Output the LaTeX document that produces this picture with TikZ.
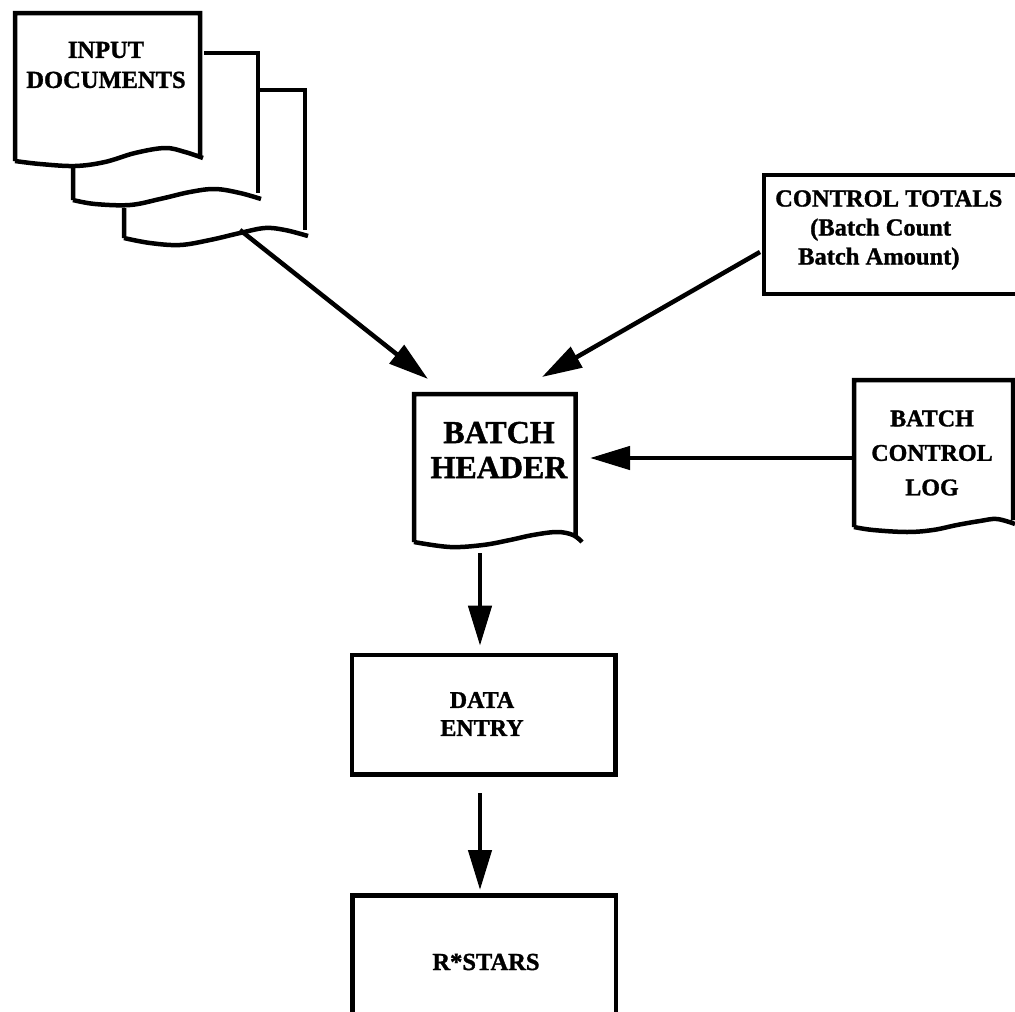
\documentclass[tikz,border=0pt]{standalone}
\usepackage{fontspec}
\setmainfont{Liberation Serif}[BoldFeatures={FakeBold=1.3}]
\usetikzlibrary{arrows.meta}
\begin{document}
\begin{tikzpicture}[x=1pt,y=-1pt,
  outline/.style={line width=4.5pt, line join=miter},
  arr/.style={line width=4.5pt, -{Triangle[length=40pt,width=23pt]}},
  lbl/.style={inner sep=0pt, align=center, font=\bfseries\fontsize{24.5}{30}\selectfont},
  biglbl/.style={inner sep=0pt, align=center, font=\bfseries\fontsize{32}{35}\selectfont},
  procbox/.style={draw, line width=4.5pt, inner sep=0pt}]
\useasboundingbox (0,0) rectangle (1015,1012);
\clip (0,0) rectangle (1015,1012);

% ---- Input documents (three stacked pages)
\draw[outline] (200,156) -- (200,13) -- (15,13) -- (15,161)
  plot[smooth, tension=0.6] coordinates {(15,161) (40,164) (75,166) (105,162) (135,153) (165,148) (185,152) (203,158)};
\draw[outline] (204,53) -- (258,53) -- (258,193);
\draw[outline] (73,168) -- (73,200)
  plot[smooth, tension=0.6] coordinates {(73,200) (95,204) (130,205) (160,199) (190,192) (215,189) (240,193) (261,199)};
\draw[outline] (258,90) -- (305,90) -- (305,230);
\draw[outline] (124,208) -- (124,238)
  plot[smooth, tension=0.6] coordinates {(124,238) (150,243) (180,245) (210,240) (240,233) (265,228) (285,230) (308,236)};
\node[lbl] (indocs) at (106,65) {INPUT\\DOCUMENTS};
\coordinate (indocsOut) at (240,230);

% ---- Control totals
\draw[outline] (1030,175) -- (764,175) -- (764,294) -- (1030,294);
\node[lbl, anchor=west, align=left, font=\bfseries\fontsize{24.5}{29}\selectfont] (ctot) at (775,230)
  {CONTROL TOTALS\\\hspace*{35pt}(Batch Count\\\hspace*{23pt}Batch Amount)};
\coordinate (ctotOut) at (760,252);

% ---- Batch header (document)
\draw[outline] (575.5,535) -- (575.5,394) -- (414,394) -- (414,542)
  plot[smooth, tension=0.6] coordinates {(414,542) (450,547) (483,545) (510,540) (533,535) (557,532) (573,535) (582,542)};
\node[biglbl] (hdr) at (499,450) {BATCH\\HEADER};
\coordinate (hdrInA) at (428,379);
\coordinate (hdrInB) at (542,377);
\coordinate (hdrInC) at (590,458);
\coordinate (hdrOut) at (480,553);

% ---- Batch control log (document)
\draw[outline] (1013,520) -- (1013,380) -- (854,380) -- (854,527)
  plot[smooth, tension=0.6] coordinates {(854,527) (873,530) (907,532) (933,530) (957,525) (980,521) (997,519) (1015,524)};
\node[lbl, font=\bfseries\fontsize{24}{34.5}\selectfont] (log) at (932,453) {BATCH\\CONTROL\\LOG};
\coordinate (logOut) at (854,458);

% ---- Data entry
\node[procbox, minimum width=263.5pt, minimum height=119.5pt] (entryBox) at (483.7,714.7) {};
\node[lbl, font=\bfseries\fontsize{24}{28}\selectfont] (entry) at (482,714) {DATA\\ENTRY};
\coordinate (entryOut) at (480,793);

% ---- R*STARS (open at the bottom edge)
\draw[outline] (352.5,1030) -- (352.5,895.5) -- (616,895.5) -- (616,1030);
\node[lbl] (rstars) at (486,962) {R*STARS};
\coordinate (rstarsIn) at (480,890);

% ---- Connectors
\draw[arr] (indocsOut) -- (hdrInA);
\draw[arr] (ctotOut) -- (hdrInB);
\draw[arr] (logOut) -- (hdrInC);
\draw[arr] (hdrOut) -- ([yshift=7pt]entryBox.north -| hdrOut);
\draw[arr] (entryOut) -- (rstarsIn);
\end{tikzpicture}
\end{document}
